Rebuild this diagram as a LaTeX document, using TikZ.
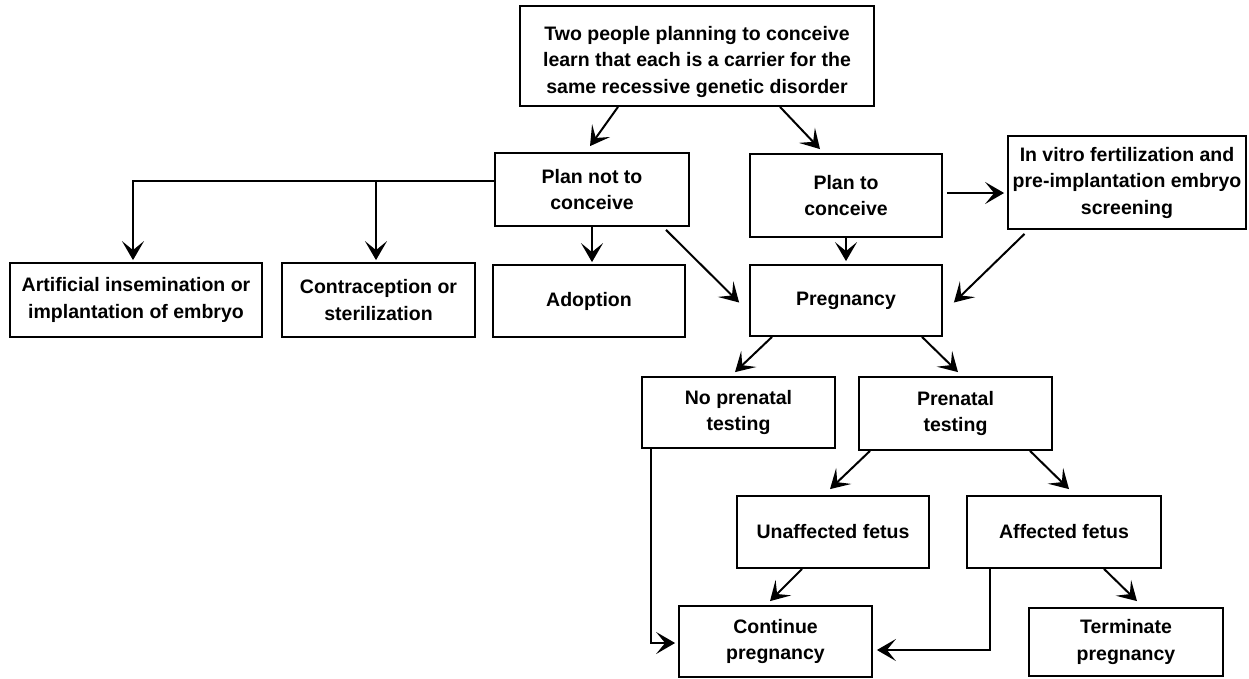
\documentclass[tikz,border=0pt]{standalone}
\usepackage{fontspec}
\setmainfont{Liberation Sans}
\usetikzlibrary{arrows.meta,calc}
\tikzset{
  box/.style={draw, line width=1.8pt, rectangle, inner sep=0pt, align=center,
    font=\bfseries\fontsize{19.5}{26.5}\selectfont},
  arr/.style={line width=2pt, -{Stealth[length=19pt,width=22pt,inset=9pt]}}
}
\begin{document}
\begin{tikzpicture}[x=1pt,y=-1pt]
\useasboundingbox (0,0) rectangle (1249,678);
\node[box, minimum width=354, minimum height=100] (top) at (697,56) {\rule{0pt}{26pt}Two people planning to conceive\\learn that each is a carrier for the\\same recessive genetic disorder};
\node[box, minimum width=194, minimum height=73] (plannot) at (592,189.5) {Plan not to\\conceive};
\node[box, minimum width=192, minimum height=83] (planto) at (846,195.5) {Plan to\\conceive};
\node[box, minimum width=238, minimum height=93] (ivf) at (1127,182.5) {In vitro fertilization and\\pre-implantation embryo\\screening};
\node[box, minimum width=252, minimum height=74] (art) at (136,300) {Artificial insemination or\\implantation of embryo};
\node[box, minimum width=193, minimum height=74] (contra) at (378.5,300) {Contraception or\\sterilization};
\node[box, minimum width=192, minimum height=72] (adopt) at (589,301) {Adoption};
\node[box, minimum width=192, minimum height=71] (preg) at (846,300.5) {Pregnancy};
\node[box, minimum width=193, minimum height=71] (noprenatal) at (738.5,412.5) {No prenatal\\testing};
\node[box, minimum width=193, minimum height=73] (prenatal) at (955.5,413.5) {Prenatal\\testing};
\node[box, minimum width=192, minimum height=72] (unaff) at (833,532) {Unaffected fetus};
\node[box, minimum width=194, minimum height=72] (aff) at (1064,532) {Affected fetus};
\node[box, minimum width=193, minimum height=71] (cont) at (775.5,641.5) {Continue\\pregnancy};
\node[box, minimum width=194, minimum height=68] (term) at (1126,642) {Terminate\\pregnancy};

\coordinate (branch) at ([yshift=8.5pt]plannot.west);
\draw[arr] ([xshift=-79pt]top.south) -- ([xshift=-2pt,yshift=6pt]plannot.north);
\draw[arr] ([xshift=83pt]top.south) -- ([xshift=-26pt,yshift=4pt]planto.north);
\draw[arr] (branch) -| ([xshift=-3pt,yshift=2pt]art.north);
\draw[arr] ([xshift=-2.5pt]contra.north |- branch) -- ([xshift=-2.5pt,yshift=2pt]contra.north);
\draw[arr] (plannot.south) -- ([xshift=3pt,yshift=2pt]adopt.north);
\draw[arr] ([xshift=74pt,yshift=-3pt]plannot.south) -- ([xshift=-10pt,yshift=-2pt]preg.west);
\draw[arr] ([xshift=4pt,yshift=2.5pt]planto.east) -- ([xshift=-3pt,yshift=-10.5pt]ivf.west);
\draw[arr] (planto.south) -- ([yshift=3pt]preg.north);
\draw[arr] ([xshift=-102.5pt,yshift=-4pt]ivf.south) -- ([xshift=11pt,yshift=-2pt]preg.east);
\draw[arr] ([xshift=-74pt]preg.south) -- ([xshift=-3.5pt,yshift=4pt]noprenatal.north);
\draw[arr] ([xshift=76pt]preg.south) -- ([xshift=2.5pt,yshift=4pt]prenatal.north);
\draw[arr] ([xshift=-85.5pt]prenatal.south) -- ([xshift=-3pt,yshift=6pt]unaff.north);
\draw[arr] ([xshift=74.5pt]prenatal.south) -- ([xshift=5pt,yshift=6pt]aff.north);
\draw[arr] ([xshift=-31pt]unaff.south) -- ([xshift=-5.5pt,yshift=4pt]cont.north);
\draw[arr] ([xshift=40pt]aff.south) -- ([xshift=11pt,yshift=6pt]term.north);
\draw[arr] ([xshift=-87.5pt]noprenatal.south) |- ([xshift=-3pt,yshift=-1.5pt]cont.west);
\draw[arr] ([xshift=-74pt]aff.south) |- ([xshift=4pt,yshift=-8.5pt]cont.east);
\end{tikzpicture}
\end{document}
